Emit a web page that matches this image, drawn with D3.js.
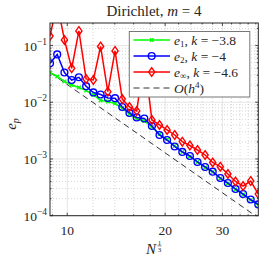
<!DOCTYPE html>
<html>
<head>
<meta charset="utf-8">
<script src="https://d3js.org/d3.v7.min.js"></script>
<style>
body { margin: 0; background: #fff; }
svg text { font-family: "Liberation Serif", "DejaVu Serif", serif; fill: #262626; }
</style>
</head>
<body>
<script>
// values
const nThird = [8.85, 9.315, 9.803, 10.318, 10.86, 11.43, 12.03, 12.662, 13.327, 14.027,
  14.763, 15.538, 16.353, 17.256, 18.21, 19.216, 20.279, 21.4, 22.583, 23.832,
  25.149, 26.54, 28.008, 29.556, 31.19, 32.915, 34.734, 36.655, 38.682];
const e1 = [0.0335, 0.0285, 0.0233, 0.0202, 0.0182, 0.0162, 0.01345, 0.0108, 0.0103, 0.0095,
  0.0079, 0.0062, 0.0051, 0.00468, 0.00367, 0.00276, 0.00221, 0.0017, 0.00133, 0.00111,
  0.000885, 0.000708, 0.00059, 0.000453, 0.00037, 0.00029, 0.000237, 0.000189, 0.000154];
const e2 = [0.0487, 0.0697, 0.0335, 0.0247, 0.0276, 0.0192, 0.0149, 0.0137, 0.0119, 0.0118,
  0.00826, 0.00648, 0.0054, 0.00518, 0.00382, 0.00265, 0.00216, 0.00166, 0.00133, 0.00113,
  0.000885, 0.000723, 0.000597, 0.000462, 0.000377, 0.000296, 0.000241, 0.000193, 0.000158];
const eInf = [0.1476, 0.55, 0.1256, 0.0398, 0.181, 0.0258, 0.0247, 0.0964, 0.0154, 0.0804,
  0.0114, 0.00826, 0.00703, 0.06, 0.00488, 0.00398, 0.00325, 0.00265, 0.00202, 0.00173,
  0.00144, 0.001176, 0.000868, 0.000731, 0.000544, 0.000401, 0.000334, 0.000409, 0.000241];
const refX = [8.85, 38.682];
const refY = [0.0335, 9.18e-5];
const xTicks = [10, 20, 30];
const xMinor = [9, 12, 14, 16, 18, 22, 24, 26, 28, 32, 34, 36, 38];
const yTicks = [1e-1, 1e-2, 1e-3, 1e-4];
const yTickExp = ["\u22121", "\u22122", "\u22123", "\u22124"];
const seriesSub = ["1", "2", "\u221e"];
const seriesK = ["\u22123.8", "\u22124", "\u22124.6"];

const W = 266, H = 257;
const L = 50, R = 258.3, T = 23, B = 215.7;

const svg = d3.select("body").append("svg")
  .attr("width", W).attr("height", H);

const x = d3.scaleLog().domain([8.85, 38.682]).range([L, R]);
const y = d3.scaleLog().domain([1e-4, 0.25]).range([B, T]);

// y minor values 2..9 x 10^k
const yMinor = [];
[1e-4, 1e-3, 1e-2, 1e-1].forEach(d => {
  for (let m = 2; m <= 9; m++) { if (d * m <= 0.25) yMinor.push(d * m); }
});

// grid
const grid = svg.append("g");
grid.selectAll(".xm").data(xMinor).enter().append("line")
  .attr("x1", d => x(d)).attr("x2", d => x(d)).attr("y1", T).attr("y2", B)
  .attr("stroke", "#c4c4c4").attr("stroke-width", 0.7).attr("stroke-dasharray", "1,2");
grid.selectAll(".ym").data(yMinor).enter().append("line")
  .attr("y1", d => y(d)).attr("y2", d => y(d)).attr("x1", L).attr("x2", R)
  .attr("stroke", "#c4c4c4").attr("stroke-width", 0.7).attr("stroke-dasharray", "1,2");
grid.selectAll(".xg").data(xTicks).enter().append("line")
  .attr("x1", d => x(d)).attr("x2", d => x(d)).attr("y1", T).attr("y2", B)
  .attr("stroke", "#dedede").attr("stroke-width", 0.8);
grid.selectAll(".yg").data(yTicks).enter().append("line")
  .attr("y1", d => y(d)).attr("y2", d => y(d)).attr("x1", L).attr("x2", R)
  .attr("stroke", "#dedede").attr("stroke-width", 0.8);

svg.append("clipPath").attr("id", "clip")
  .append("rect").attr("x", L).attr("y", T).attr("width", R - L).attr("height", B - T);

const plot = svg.append("g").attr("clip-path", "url(#clip)");
const line = d3.line().x(d => x(d[0])).y(d => y(d[1]));

// reference O(h^4)
plot.append("path")
  .datum(refX.map((d, i) => [d, refY[i]]))
  .attr("d", line).attr("fill", "none")
  .attr("stroke", "#333").attr("stroke-width", 1).attr("stroke-dasharray", "6,4");

const series = [
  {vals: e1, color: "#00ff00", mark: "x"},
  {vals: e2, color: "#0000ff", mark: "o"},
  {vals: eInf, color: "#ff0000", mark: "d"}
];

function drawMarker(g, type, color) {
  if (type === "o") {
    g.append("circle").attr("r", 3.4).attr("fill", "none")
      .attr("stroke", color).attr("stroke-width", 1.4);
  } else if (type === "d") {
    g.append("path").attr("d", "M0,-4.3L3.1,0L0,4.3L-3.1,0Z").attr("fill", "none")
      .attr("stroke", color).attr("stroke-width", 1.4);
  } else {
    g.append("path").attr("d", "M-1.8,-1.8L1.8,1.8M-1.8,1.8L1.8,-1.8")
      .attr("stroke", color).attr("stroke-width", 1.3);
  }
}

series.forEach(s => {
  const pts = nThird.map((d, i) => [d, s.vals[i]]);
  plot.append("path").datum(pts).attr("d", line).attr("fill", "none")
    .attr("stroke", s.color).attr("stroke-width", 1.5);
  plot.selectAll(null).data(pts).enter().append("g")
    .attr("transform", d => `translate(${x(d[0])},${y(d[1])})`)
    .each(function () { drawMarker(d3.select(this), s.mark, s.color); });
});

// box + ticks
const ax = svg.append("g");
ax.append("rect").attr("x", L).attr("y", T).attr("width", R - L).attr("height", B - T)
  .attr("fill", "none").attr("stroke", "#262626").attr("stroke-width", 1);
const tickLine = (x1, y1, x2, y2) => ax.append("line")
  .attr("x1", x1).attr("y1", y1).attr("x2", x2).attr("y2", y2)
  .attr("stroke", "#262626").attr("stroke-width", 0.8);
xTicks.forEach(d => { tickLine(x(d), B, x(d), B - 3); tickLine(x(d), T, x(d), T + 3); });
xMinor.forEach(d => { tickLine(x(d), B, x(d), B - 1.5); tickLine(x(d), T, x(d), T + 1.5); });
yTicks.forEach(d => { tickLine(L, y(d), L + 3, y(d)); tickLine(R, y(d), R - 3, y(d)); });
yMinor.forEach(d => { tickLine(L, y(d), L + 1.5, y(d)); tickLine(R, y(d), R - 1.5, y(d)); });

// tick labels
svg.selectAll(".xl").data(xTicks).enter().append("text")
  .attr("x", d => x(d)).attr("y", 235).attr("text-anchor", "middle")
  .attr("font-size", 13.5).text(d => d);
yTicks.forEach((d, i) => {
  const t = svg.append("text").attr("x", 47).attr("y", y(d) + 5)
    .attr("text-anchor", "end").attr("font-size", 13.5);
  t.append("tspan").text("10");
  t.append("tspan").attr("dy", -6).attr("font-size", 9.5).text(yTickExp[i]);
});

// axis labels
const yl = svg.append("text").attr("transform", "translate(16,124) rotate(-90)")
  .attr("text-anchor", "middle").attr("font-size", 15);
yl.append("tspan").attr("font-style", "italic").text("e");
yl.append("tspan").attr("font-style", "italic").attr("font-size", 10).attr("dy", 3).text("p");

svg.append("text").attr("x", 146).attr("y", 254).attr("font-size", 15)
  .attr("font-style", "italic").text("N");
svg.append("text").attr("x", 159.5).attr("y", 244.5).attr("font-size", 7)
  .attr("text-anchor", "middle").text("1");
svg.append("line").attr("x1", 157.5).attr("x2", 161.5).attr("y1", 245.8).attr("y2", 245.8)
  .attr("stroke", "#262626").attr("stroke-width", 0.6);
svg.append("text").attr("x", 159.5).attr("y", 251.8).attr("font-size", 7)
  .attr("text-anchor", "middle").text("3");

// title
const tt = svg.append("text").attr("x", 154).attr("y", 16).attr("text-anchor", "middle")
  .attr("font-size", 15);
tt.append("tspan").text("Dirichlet, ");
tt.append("tspan").attr("font-style", "italic").text("m");
tt.append("tspan").text(" = 4");

// legend
const lg = svg.append("g");
lg.append("rect").attr("x", 129.3).attr("y", 31.5).attr("width", 120.5).attr("height", 65.5)
  .attr("fill", "#fff").attr("stroke", "#777").attr("stroke-width", 1);
const rowY = [40, 56, 72, 88];
series.forEach((s, i) => {
  lg.append("line").attr("x1", 133.5).attr("x2", 170).attr("y1", rowY[i]).attr("y2", rowY[i])
    .attr("stroke", s.color).attr("stroke-width", 1.5);
  drawMarker(lg.append("g").attr("transform", `translate(151.7,${rowY[i]})`), s.mark, s.color);
  const t = lg.append("text").attr("x", 174).attr("y", rowY[i] + 4.5).attr("font-size", 13.5);
  t.append("tspan").attr("font-style", "italic").text("e");
  t.append("tspan").attr("font-size", 9).attr("dy", 2.5).text(seriesSub[i]);
  t.append("tspan").attr("dy", -2.5).text(", ");
  t.append("tspan").attr("font-style", "italic").text("k");
  t.append("tspan").text(" = " + seriesK[i]);
});
lg.append("line").attr("x1", 133.5).attr("x2", 170).attr("y1", rowY[3]).attr("y2", rowY[3])
  .attr("stroke", "#333").attr("stroke-width", 1).attr("stroke-dasharray", "6,4");
const ot = lg.append("text").attr("x", 174).attr("y", rowY[3] + 4.5).attr("font-size", 13.5);
ot.append("tspan").attr("font-style", "italic").text("O");
ot.append("tspan").text("(");
ot.append("tspan").attr("font-style", "italic").text("h");
ot.append("tspan").attr("font-size", 9).attr("dy", -5).text("4");
ot.append("tspan").attr("dy", 5).text(")");
</script>
</body>
</html>
